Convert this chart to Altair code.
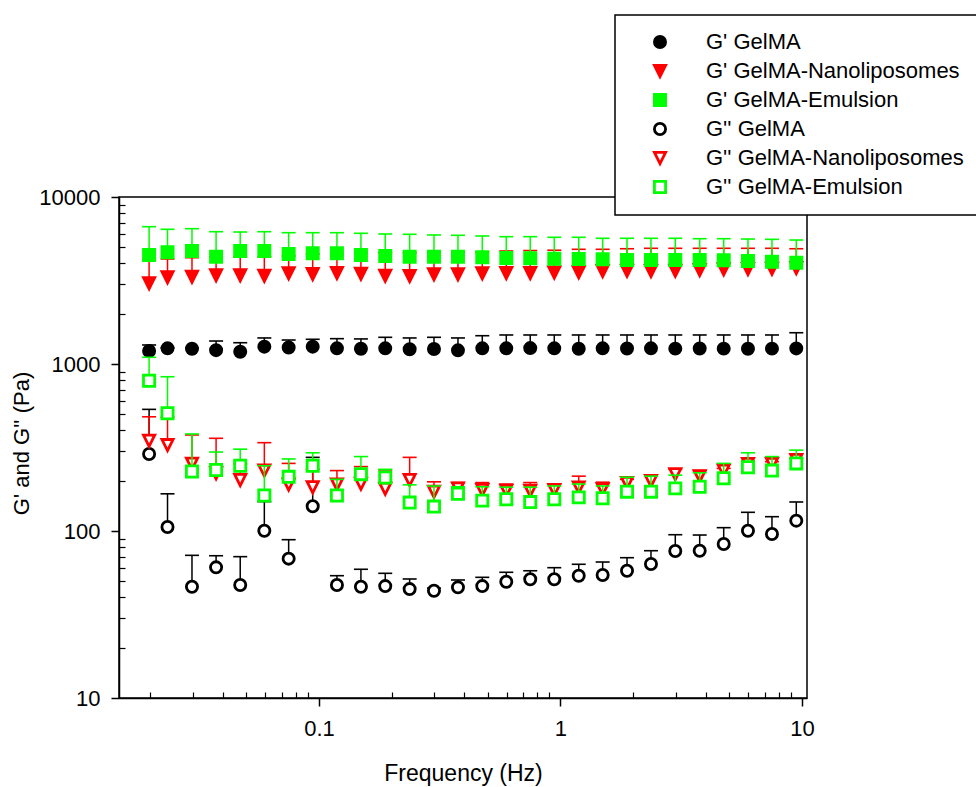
import altair as alt
import pandas as pd

# ---------------- data ----------------
freq = [0.0198, 0.0236, 0.0298, 0.0375, 0.0472, 0.0594, 0.0749, 0.0942, 0.1187, 0.1492,
        0.1881, 0.2374, 0.2994, 0.3763, 0.4745, 0.5965, 0.7495, 0.9426, 1.190, 1.495,
        1.886, 2.370, 2.988, 3.771, 4.741, 5.975, 7.511, 9.471]

series_names = ["G' GelMA", "G' GelMA-Nanoliposomes", "G' GelMA-Emulsion",
                "G'' GelMA", "G'' GelMA-Nanoliposomes", "G'' GelMA-Emulsion"]

gp_gelma = [1196, 1241, 1235, 1210, 1185, 1270, 1255, 1270, 1241, 1235,
            1241, 1225, 1230, 1207, 1241, 1241, 1245, 1241, 1235, 1241,
            1238, 1241, 1236, 1238, 1236, 1234, 1236, 1240]
gp_gelma_up = [1300, 1250, 1245, 1373, 1341, 1432, 1392, 1406, 1418, 1413,
               1445, 1432, 1445, 1432, 1477, 1492, 1492, 1492, 1492, 1492,
               1492, 1492, 1492, 1492, 1492, 1492, 1492, 1539]

gp_nano = [3043, 3303, 3333, 3396, 3396, 3380, 3491, 3459, 3508, 3473,
           3380, 3365, 3444, 3444, 3491, 3508, 3508, 3531, 3540, 3605,
           3620, 3605, 3620, 3655, 3690, 3706, 3720, 3758]
gp_nano_up = [4254, 4254, 4330, 4391, 4391, 4391, 4434, 4557, 4557, 4639,
              4639, 4639, 4639, 4687, 4687, 4750, 4780, 4800, 4862, 4862,
              4900, 4930, 4930, 4930, 4930, 4930, 4930, 4900]

gp_emul = [4495, 4666, 4750, 4391, 4750, 4750, 4557, 4601, 4601, 4495,
           4434, 4391, 4391, 4391, 4355, 4313, 4295, 4272, 4255, 4237,
           4196, 4196, 4196, 4196, 4180, 4138, 4099, 4042]
gp_emul_up = [6641, 6406, 6459, 6197, 6172, 6197, 6113, 6113, 6113, 6063,
              6004, 5980, 5923, 5898, 5842, 5786, 5786, 5738, 5738, 5659,
              5659, 5659, 5659, 5628, 5628, 5602, 5579, 5526]

gpp_gelma = [289, 105.7, 46.4, 60.6, 47.5, 100.4, 68.3, 140.6, 47.5, 46.4,
             46.8, 44.9, 43.9, 46.0, 46.8, 49.7, 51.4, 51.4, 54.0, 54.5,
             57.8, 63.4, 75.9, 76.2, 83.6, 100.4, 95.9, 115.3]
gpp_gelma_up = [535, 167, 71.5, 71.1, 70.2, 150, 88.7, 276, 54.0, 59.0,
                55.8, 51.6, 45.5, 50.9, 52.8, 56.6, 57.8, 60.3, 63.2, 65.2,
                69.2, 76.2, 95.0, 94.6, 104.7, 129.4, 121.8, 149.2]

gpp_nano = [347, 327, 253, 222, 202, 230, 190, 183, 190, 192,
            179, 202, 172, 180, 176, 174, 174, 176, 182, 178,
            194, 199, 219, 213, 230, 252, 252, 266]
gpp_nano_up = [483, 480, 376, 359, 252, 338, 254, 234, 230, 243,
               232, 276, 197, 195, 195, 191, 195, 191, 213, 196,
               204, 216, 234, 230, 237, 263, 260, 272]

gpp_emul = [794, 507, 227, 232, 246, 163, 211, 246, 163, 219,
            209, 148, 140, 167, 152, 155, 149, 155, 159, 157,
            172, 172, 180, 184, 207, 241, 230, 254]
gpp_emul_up = [1097, 839, 381, 297, 309, 246, 270, 294, 204, 279,
               234, 189, 186, 184, 184, 183, 183, 186, 191, 186,
               210, 213, 216, 223, 254, 294, 279, 305]

x_major = [0.1, 1, 10]
x_minor = [0.02, 0.03, 0.04, 0.05, 0.06, 0.07, 0.08, 0.09,
           0.2, 0.3, 0.4, 0.5, 0.6, 0.7, 0.8, 0.9,
           2, 3, 4, 5, 6, 7, 8, 9]
y_major = [10, 100, 1000, 10000]
y_minor = [20, 30, 40, 50, 60, 70, 80, 90,
           200, 300, 400, 500, 600, 700, 800, 900,
           2000, 3000, 4000, 5000, 6000, 7000, 8000, 9000]

means = [gp_gelma, gp_nano, gp_emul, gpp_gelma, gpp_nano, gpp_emul]
uppers = [gp_gelma_up, gp_nano_up, gp_emul_up, gpp_gelma_up, gpp_nano_up, gpp_emul_up]

rows = []
for name, m, u in zip(series_names, means, uppers):
    for f, v, e in zip(freq, m, u):
        rows.append({"series": name, "freq": f, "value": v, "upper": e})
df = pd.DataFrame(rows)

# ---------------- styling ----------------
FONT = "Liberation Sans"
line_colors = ["#000000", "#ff0000", "#00ff00", "#000000", "#ff0000", "#00ff00"]
fill_colors = ["#000000", "#ff0000", "#00ff00", "#ffffff", "#ffffff", "#ffffff"]
tri_down = "M-1,-1L1,-1L0,1Z"
shapes = ["circle", tri_down, "square", "circle", tri_down, "square"]

xscale = alt.Scale(type="log", domain=[0.01486, 10.49], nice=False)
yscale = alt.Scale(type="log", domain=[10, 10000], nice=False)

legend = alt.Legend(title=None, orient="none", legendX=496, legendY=-182)

x_plain = alt.X("freq:Q", scale=xscale, axis=None)
y_plain = alt.Y("value:Q", scale=yscale, axis=None)

layers = []
for name, lc in zip(series_names, line_colors):
    sub = alt.Chart(df).transform_filter(alt.datum.series == name)
    bar = sub.mark_rule(color=lc, strokeWidth=1.5).encode(
        x=x_plain, y=y_plain, y2=alt.Y2("upper:Q"))
    cap = sub.mark_rule(color=lc, strokeWidth=1.6, xOffset=-7, x2Offset=7).encode(
        x=x_plain, x2=alt.X2("freq:Q"), y=alt.Y("upper:Q", scale=yscale, axis=None))
    pts = sub.mark_point(size=125, strokeWidth=2.8, opacity=1).encode(
        x=x_plain, y=y_plain,
        stroke=alt.Stroke("series:N", scale=alt.Scale(domain=series_names, range=line_colors), legend=legend),
        fill=alt.Fill("series:N", scale=alt.Scale(domain=series_names, range=fill_colors), legend=legend),
        shape=alt.Shape("series:N", scale=alt.Scale(domain=series_names, range=shapes), legend=legend),
    )
    layers += [bar, cap, pts]

# main axes (labels, outward major ticks)
main_axes = alt.Chart(df).mark_point(opacity=0).encode(
    x=alt.X("freq:Q", scale=xscale, title="Frequency (Hz)",
            axis=alt.Axis(orient="bottom", values=x_major, format="~g", tickSize=8, tickWidth=1.5,
                          labelFontSize=22, titleFontSize=23, labelPadding=12,
                          titleBaseline="alphabetic", titleY=82,
                          domainWidth=1.5, grid=False)),
    y=alt.Y("value:Q", scale=yscale, title="G' and G'' (Pa)",
            axis=alt.Axis(orient="left", values=y_major, format="d", tickSize=8, tickWidth=1.5,
                          labelFontSize=22, titleFontSize=22, labelPadding=11,
                          titleBaseline="alphabetic", titleX=-91, titleY=246,
                          domainWidth=1.5, grid=False)),
)

# minor axes (inward short ticks)
minor_axes = alt.Chart(df).mark_point(opacity=0).encode(
    x=alt.X("freq:Q", scale=xscale, title=None,
            axis=alt.Axis(orient="bottom", values=x_minor, labels=False, domain=False,
                          tickSize=6, tickWidth=1.2, offset=-6, grid=False)),
    y=alt.Y("value:Q", scale=yscale, title=None,
            axis=alt.Axis(orient="left", values=y_minor, labels=False, domain=False,
                          tickSize=6, tickWidth=1.2, offset=-6, grid=False)),
)

chart = alt.layer(*layers, main_axes, minor_axes).resolve_axis(
    x="independent", y="independent"
).properties(
    width=688, height=501,
    autosize=alt.AutoSizeParams(type="none"),
    padding={"left": 119, "top": 197, "right": 169, "bottom": 89},
    background="white",
).configure_view(
    stroke="black", strokeWidth=1.5
).configure_axis(
    labelFont=FONT, titleFont=FONT, labelColor="black", titleColor="black",
    tickColor="black", domainColor="black", titleFontWeight="normal",
).configure_legend(
    labelFont=FONT, labelFontSize=22, labelColor="black", labelLimit=500,
    symbolSize=125, symbolStrokeWidth=2.8, symbolOffset=18, labelOffset=35,
    rowPadding=5, padding=16, fillColor="white", strokeColor="black", strokeWidth=1.5,
)

chart.save("out.html", embed_options={"renderer": "svg", "actions": False})
